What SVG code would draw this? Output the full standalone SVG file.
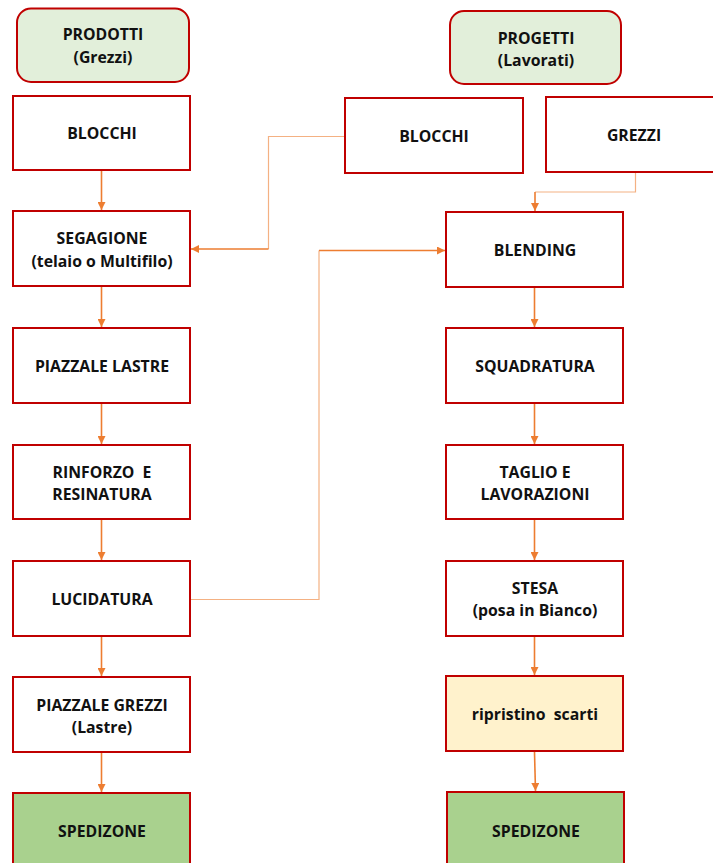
<svg xmlns="http://www.w3.org/2000/svg" width="713" height="863" viewBox="0 0 713 863">
<style>
.box{fill:#ffffff;stroke:#C00000;stroke-width:2}
.hdr{fill:#E2EFDA;stroke:#C00000;stroke-width:2}
.ship{fill:#A9D18E;stroke:#C00000;stroke-width:2}
.yel{fill:#FFF2CC;stroke:#C00000;stroke-width:2}
.t{font-family:"Open Sans","Liberation Sans",sans-serif;font-weight:bold;font-size:15.8px;fill:#111;text-anchor:middle;white-space:pre}
.a{fill:none;stroke:#ED7D31;stroke-width:1.6}
.c{fill:none;stroke:#F4B183;stroke-width:1.2}
</style>
<defs>
<marker id="ah" viewBox="0 0 10 10" refX="10" refY="5" markerWidth="8" markerHeight="8" markerUnits="userSpaceOnUse" orient="auto">
<path d="M0,0 L10,5 L0,10 z" fill="#ED7D31"/>
</marker>
</defs>
<g id="connectors">
<line class="a" x1="101.5" y1="171" x2="101.5" y2="210" marker-end="url(#ah)"/>
<line class="a" x1="101.5" y1="287" x2="101.5" y2="327" marker-end="url(#ah)"/>
<line class="a" x1="101.5" y1="404" x2="101.5" y2="444" marker-end="url(#ah)"/>
<line class="a" x1="101.5" y1="520" x2="101.5" y2="560" marker-end="url(#ah)"/>
<line class="a" x1="101.5" y1="637" x2="101.5" y2="676" marker-end="url(#ah)"/>
<line class="a" x1="101.5" y1="753" x2="101.5" y2="792" marker-end="url(#ah)"/>
<line class="a" x1="534.5" y1="288" x2="534.5" y2="327" marker-end="url(#ah)"/>
<line class="a" x1="534.5" y1="404" x2="534.5" y2="444" marker-end="url(#ah)"/>
<line class="a" x1="534.5" y1="520" x2="534.5" y2="560" marker-end="url(#ah)"/>
<line class="a" x1="534.5" y1="637" x2="534.5" y2="675" marker-end="url(#ah)"/>
<line class="a" x1="534.5" y1="752" x2="535.5" y2="791" marker-end="url(#ah)"/>
<polyline class="c" points="345,136.5 268.5,136.5 268.5,249"/>
<line class="a" x1="268.5" y1="249" x2="191" y2="249" marker-end="url(#ah)"/>
<polyline class="c" points="635.5,172 635.5,192 535,192"/>
<line class="a" x1="535" y1="192" x2="535" y2="211" marker-end="url(#ah)"/>
<polyline class="c" points="191,599.5 319,599.5 319,250.5"/>
<line class="a" x1="319" y1="250.5" x2="445" y2="250.5" marker-end="url(#ah)"/>
</g>
<g id="prodotti"><rect class="hdr" x="17" y="8.5" width="172" height="73.5" rx="14"/><text class="t" x="103" y="40">PRODOTTI</text><text class="t" x="103" y="63">(Grezzi)</text></g>
<g id="progetti"><rect class="hdr" x="450" y="11" width="171" height="73" rx="14"/><text class="t" x="536" y="44">PROGETTI</text><text class="t" x="536" y="66">(Lavorati)</text></g>
<g id="blocchi-l"><rect class="box" x="13" y="96" width="177" height="74"/><text class="t" x="102" y="139">BLOCCHI</text></g>
<g id="segagione"><rect class="box" x="13" y="211" width="177" height="75"/><text class="t" x="102" y="244">SEGAGIONE</text><text class="t" x="102" y="267">(telaio o Multifilo)</text></g>
<g id="piazzale-lastre"><rect class="box" x="13" y="328" width="177" height="75"/><text class="t" x="102" y="372">PIAZZALE LASTRE</text></g>
<g id="rinforzo"><rect class="box" x="13" y="445" width="177" height="74"/><text class="t" x="102" y="478">RINFORZO  E</text><text class="t" x="102" y="500">RESINATURA</text></g>
<g id="lucidatura"><rect class="box" x="13" y="561" width="177" height="75"/><text class="t" x="102" y="605">LUCIDATURA</text></g>
<g id="piazzale-grezzi"><rect class="box" x="13" y="677" width="177" height="75"/><text class="t" x="102" y="711">PIAZZALE GREZZI</text><text class="t" x="102" y="733">(Lastre)</text></g>
<g id="spedizone-l"><rect class="ship" x="13" y="793" width="177" height="75"/><text class="t" x="102" y="837">SPEDIZONE</text></g>
<g id="blocchi-r"><rect class="box" x="345" y="98" width="178" height="75"/><text class="t" x="434" y="142">BLOCCHI</text></g>
<g id="grezzi"><rect class="box" x="546" y="97" width="172" height="75"/><text class="t" x="634" y="141">GREZZI</text></g>
<g id="blending"><rect class="box" x="446" y="212" width="177" height="75"/><text class="t" x="535" y="256">BLENDING</text></g>
<g id="squadratura"><rect class="box" x="446" y="328" width="177" height="75"/><text class="t" x="535" y="372">SQUADRATURA</text></g>
<g id="taglio"><rect class="box" x="446" y="445" width="177" height="74"/><text class="t" x="535" y="478">TAGLIO E</text><text class="t" x="535" y="500">LAVORAZIONI</text></g>
<g id="stesa"><rect class="box" x="446" y="561" width="177" height="75"/><text class="t" x="535" y="594">STESA</text><text class="t" x="535" y="616">(posa in Bianco)</text></g>
<g id="ripristino"><rect class="yel" x="446" y="676" width="177" height="75"/><text class="t" x="535" y="720">ripristino  scarti</text></g>
<g id="spedizone-r"><rect class="ship" x="447" y="792" width="177" height="76"/><text class="t" x="536" y="837">SPEDIZONE</text></g>
</svg>
